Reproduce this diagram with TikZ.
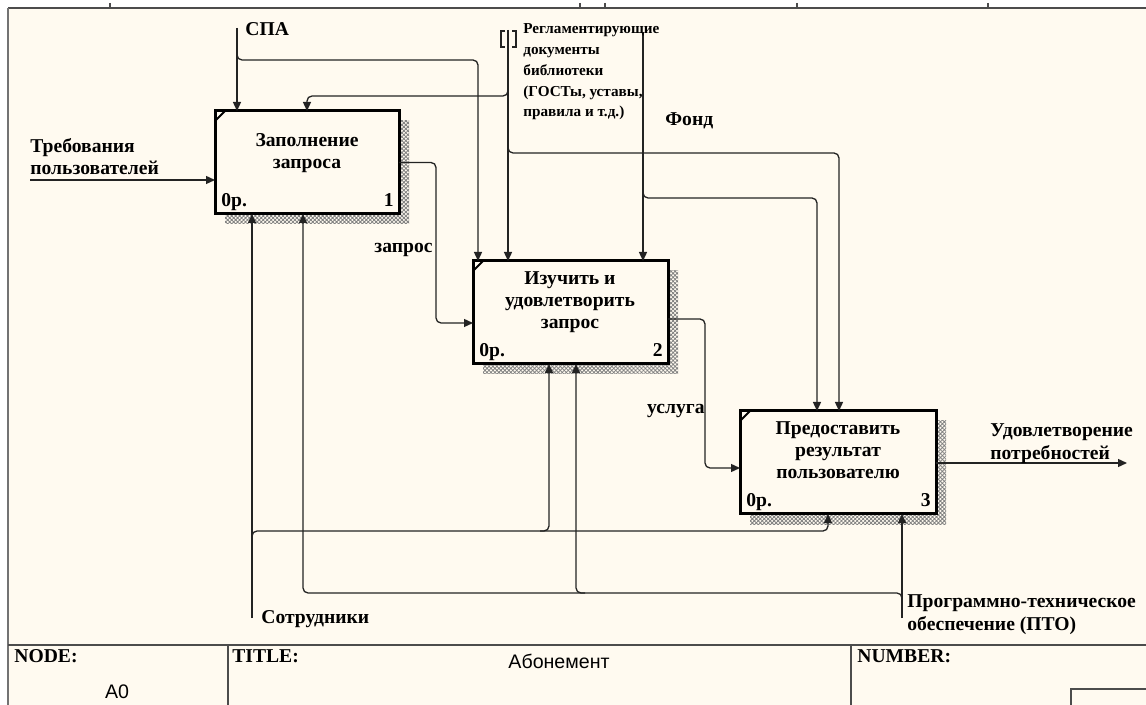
\documentclass[tikz,border=0pt]{standalone}
\usepackage{fontspec}
\setmainfont{Liberation Serif}
\newfontfamily\arialfont{Liberation Sans}
\usetikzlibrary{arrows.meta,positioning,shadows,patterns.meta}
\definecolor{paper}{RGB}{255,250,240}
\definecolor{wire}{RGB}{35,35,35}
\tikzset{
  func/.style={draw=black, line width=1.5pt, fill=paper, inner sep=0pt, outer sep=0pt, minimum width=97.5pt, minimum height=51.5pt,
    general shadow={shadow xshift=5pt, shadow yshift=-5pt, pattern={Hatch[angle=45,distance=1.4pt,line width=0.4pt]}, pattern color=black!50}},
  functext/.style={font=\bfseries\fontsize{9.8}{11.2}\selectfont, align=center, inner sep=0pt},
  tag/.style={font=\bfseries\fontsize{9.8}{11.2}\selectfont, inner sep=0pt},
  arrowlbl/.style={font=\bfseries\fontsize{9.8}{11.4}\selectfont, align=left, inner sep=0pt},
  smalllbl/.style={font=\bfseries\fontsize{7.6}{10.4}\selectfont, align=left, inner sep=0pt},
  plain/.style={font=\arialfont\fontsize{9.8}{11.2}\selectfont, inner sep=0pt},
  flow/.style={draw=wire, line width=0.65pt, rounded corners=2.5pt, -{Triangle[length=4.5pt,width=4pt]}},
  frame/.style={draw=black!70, line width=1pt}
}
\begin{document}
\begin{tikzpicture}[x=0.5pt, y=-0.5pt]
  % sheet
  \fill[white] (0,0) rectangle (1146,705);
  \fill[paper] (8,8) rectangle (1146,705);
  \useasboundingbox (0,0) rectangle (1146,705);
  \draw[frame] (8,8) -- (1146,8);
  \draw[draw=black!55, line width=1.3pt] (8,8) -- (8,705);
  \foreach \t in {110,580,605,797,988}
    \draw[black!70, line width=0.6pt] (\t,3) -- (\t,8);

  % activities
  \node[func, minimum width=92pt, anchor=north west] (zap) at (215,111) {};
  \node[func, below right=23.5pt and 37pt of zap] (izu) {};
  \node[func, minimum width=98pt, below right=23.5pt and 36pt of izu] (pred) {};

  \node[functext, anchor=base] (zapT) at (307,169) {Заполнение\\запроса};
  \node[functext, anchor=base] (izuT) at (570,329) {Изучить и\\удовлетворить\\запрос};
  \node[functext, anchor=base] (predT) at (838,479) {Предоставить\\результат\\пользователю};

  \foreach \b/\n in {zap/1,izu/2,pred/3} {
    \draw[line width=1pt] ([yshift=-5pt]\b.north west) -- ([xshift=5pt]\b.north west);
    \node[tag, anchor=base west] (\b-cost) at ([xshift=3pt,yshift=3.5pt]\b.south west) {0р.};
    \node[tag, anchor=base east] (\b-num) at ([xshift=-2.5pt,yshift=3.5pt]\b.south east) {\n};
  }

  % free ends
  \coordinate (spa) at (237,28);
  \coordinate (reg) at (508,30);
  \coordinate (fond) at (643,32);
  \coordinate (treb) at (30,180);
  \coordinate (udov) at (1127,463);
  \coordinate (sotr) at (252,618);
  \coordinate (pto) at (902,618);

  % inputs and outputs
  \draw[flow] (treb) -- (treb -| zap.west);
  \draw[flow] (zap.east) -- (436,162.5) -- (436,323) -- (436,323 -| izu.west);
  \draw[flow] (0,319 -| izu.east) -- (705,319) -- (705,468) -- (705,468 -| pred.west);
  \draw[flow] (0,463 -| pred.east) -- (udov);

  % controls
  \draw[flow] (spa) -- (spa |- zap.north);
  \draw[flow] (237,52) -- (237,60) -- (478,60) -- (478,60 |- izu.north);
  \draw[flow] (reg) -- (reg |- izu.north);
  \draw[flow] (508,86) -- (508,96) -- (307,96) -- (307,96 |- zap.north);
  \draw[flow] (508,145) -- (508,153) -- (839,153) -- (839,153 |- pred.north);
  \draw[flow] (fond) -- (fond |- izu.north);
  \draw[flow] (643,190) -- (643,198) -- (817,198) -- (817,198 |- pred.north);
  \draw[wire, line width=0.6pt] (505,31) -- (501,31) -- (501,47) -- (505,47)
                                (512,31) -- (516,31) -- (516,47) -- (512,47);

  % mechanisms
  \draw[flow] (sotr) -- (sotr |- zap.south);
  \draw[flow] (252,540) -- (252,531) -- (828,531) -- (828,531 |- pred.south);
  \draw[flow] (540,531) -- (549,531) -- (549,531 |- izu.south);
  \draw[flow] (pto) -- (pto |- pred.south);
  \draw[flow] (902,602) -- (902,593) -- (303,593) -- (303,593 |- zap.south);
  \draw[flow] (585,593) -- (576,593) -- (576,593 |- izu.south);

  % arrow labels
  \node[arrowlbl, anchor=base west] (spalbl) at (245,36) {СПА};
  \node[smalllbl, anchor=base west] (reglbl) at (523,117) {Регламентирующие\\документы\\библиотеки\\(ГОСТы, уставы,\\правила и т.д.)};
  \node[arrowlbl, anchor=base west] (fondlbl) at (665,126) {Фонд};
  \node[arrowlbl, anchor=base west] (treblbl) at (30,175) {Требования\\пользователей};
  \node[arrowlbl, anchor=base east] (zaprlbl) at (433,253) {запрос};
  \node[arrowlbl, anchor=base east] (uslbl) at (705,414) {услуга};
  \node[arrowlbl, anchor=base west] (udovlbl) at (990,459) {Удовлетворение\\потребностей};
  \node[arrowlbl, anchor=base west] (sotrlbl) at (261,623) {Сотрудники};
  \node[arrowlbl, anchor=base west] (ptolbl) at (907,630) {Программно-техническое\\обеспечение (ПТО)};

  % title block
  \draw[frame] (8,645) -- (1146,645);
  \draw[frame] (228,645) -- (228,705);
  \draw[frame] (851,645) -- (851,705);
  \draw[frame] (1071,689) rectangle (1150,710);
  \node[tag, anchor=base west] (nodelbl) at (14,662) {NODE:};
  \node[plain, anchor=base] (nodeval) at (117,698) {A0};
  \node[tag, anchor=base west] (titlelbl) at (232,662) {TITLE:};
  \node[plain, anchor=base] (titleval) at (559,668) {Абонемент};
  \node[tag, anchor=base west] (numlbl) at (857,662) {NUMBER:};
\end{tikzpicture}
\end{document}
